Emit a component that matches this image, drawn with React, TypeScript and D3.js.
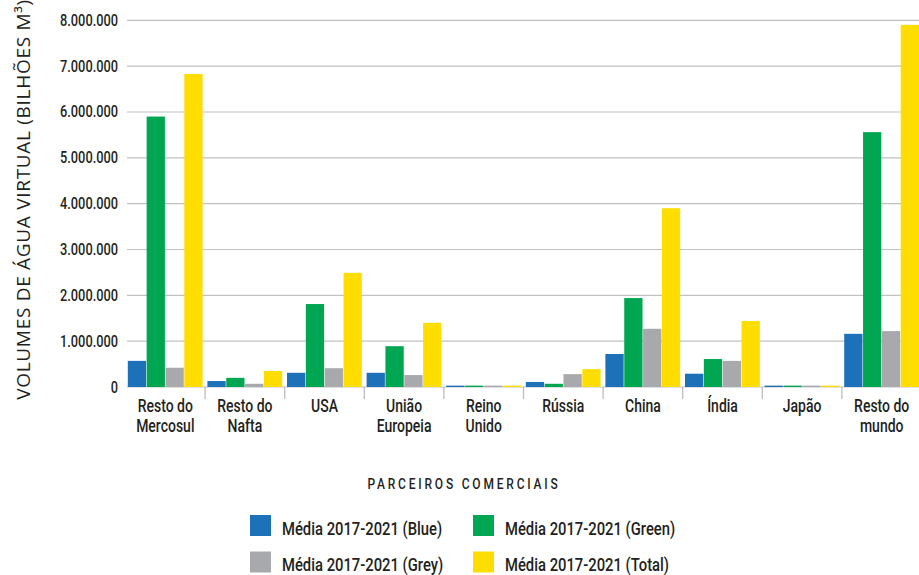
import React from "react";
import * as d3 from "d3";

const categories = ["Resto do\nMercosul", "Resto do\nNafta", "USA", "União\nEuropeia", "Reino\nUnido", "Rússia", "China", "Índia", "Japão", "Resto do\nmundo"];
const seriesNames = ["Média 2017-2021 (Blue)", "Média 2017-2021 (Green)", "Média 2017-2021 (Grey)", "Média 2017-2021 (Total)"];
const blueValues = [570000, 130000, 310000, 310000, 30000, 110000, 720000, 290000, 30000, 1160000];
const greenValues = [5900000, 200000, 1810000, 890000, 30000, 70000, 1940000, 610000, 30000, 5560000];
const greyValues = [420000, 70000, 410000, 260000, 30000, 280000, 1270000, 570000, 30000, 1220000];
const totalValues = [6830000, 350000, 2490000, 1400000, 30000, 390000, 3900000, 1440000, 30000, 7900000];
const yTicks = [0, 1000000, 2000000, 3000000, 4000000, 5000000, 6000000, 7000000, 8000000];
const colors = ["#1d71b8", "#00a651", "#a7a9ac", "#ffdd00"];
const yTitle = "VOLUMES DE ÁGUA VIRTUAL (BILHÕES M³)";
const xTitle = "PARCEIROS COMERCIAIS";

const W = 919, H = 575;
const FONT = "Roboto, 'Noto Sans', sans-serif";
const SX = 0.8;
const INK = "#231f20";

function T(props: { x: number; y: number; anchor?: string; size: number; lines: string[]; lh?: number; ls?: number }) {
  const { x, y, anchor = "start", size, lines, lh = 20.5, ls = 0 } = props;
  return (
    <text transform={`translate(${x},${y}) scale(${SX},1)`} textAnchor={anchor} fontFamily={FONT} fontSize={size} fontWeight={500} letterSpacing={ls} fill={INK}>
      {lines.map((l, j) => (
        <tspan key={j} x={0} dy={j === 0 ? 0 : lh}>{l}</tspan>
      ))}
    </text>
  );
}

export default function App() {
  const series = [blueValues, greenValues, greyValues, totalValues];
  const x = d3.scaleBand<string>().domain(categories).range([125.5, 921.5]).paddingInner(0).paddingOuter(0);
  const xi = d3.scaleBand<number>().domain([0, 1, 2, 3]).range([2.3, x.bandwidth() - 2.5]).paddingInner(0.03).paddingOuter(0);
  const y = d3.scaleLinear().domain([0, 8000000]).range([387, 20.3]);
  const locale = d3.formatLocale({ decimal: ",", thousands: ".", grouping: [3], currency: ["", ""] });
  const fmt = locale.format(",d");

  return (
    <svg width={W} height={H} style={{ position: "absolute", left: 0, top: 0, background: "#fff" }}>
      {yTicks.map((t) => (
        <line key={"g" + t} x1={127} x2={W} y1={y(t)} y2={y(t)} stroke="#c2c2c2" strokeWidth={1.2} />
      ))}
      {yTicks.map((t) => (
        <T key={"yl" + t} x={118} y={y(t) + 5.5} anchor="end" size={16} lines={[fmt(t)]} />
      ))}
      {categories.slice(1).map((c) => (
        <line key={"s" + c} x1={x(c)!} x2={x(c)!} y1={387} y2={399} stroke="#bdbdbd" strokeWidth={1.3} />
      ))}
      {categories.map((c, i) => (
        <g key={"b" + c} transform={`translate(${x(c)},0)`}>
          {series.map((s, k) => (
            <rect key={k} x={xi(k)!} width={xi.bandwidth()} y={y(s[i])} height={y(0) - y(s[i])} fill={colors[k]} />
          ))}
        </g>
      ))}
      {categories.map((c) => (
        <T key={"xl" + c} x={x(c)! + x.bandwidth() / 2} y={412} anchor="middle" size={17.5} lines={c.split("\n")} lh={20.5} />
      ))}
      <text transform={`translate(30,199.5) rotate(-90)`} textAnchor="middle" fontFamily="'Open Sans', sans-serif" fontSize={19} letterSpacing={0.7} fill={INK}>
        {yTitle}
      </text>
      <T x={464} y={489} anchor="middle" size={15} ls={3.5} lines={[xTitle]} />
      {seriesNames.map((n, k) => {
        const col = k % 2, row = Math.floor(k / 2);
        const lx = 250 + col * 223, ly = 515 + row * 36.5;
        return (
          <g key={"lg" + k}>
            <rect x={lx} y={ly} width={21} height={21} fill={colors[k]} />
            <T x={lx + 32} y={ly + 19.5} size={18.5} lines={[n]} />
          </g>
        );
      })}
    </svg>
  );
}
